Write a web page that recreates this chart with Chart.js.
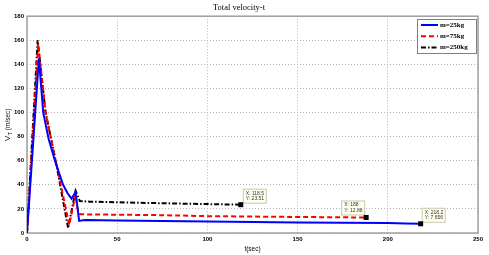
<!DOCTYPE html>
<html>
<head>
<meta charset="utf-8">
<script src="https://cdn.jsdelivr.net/npm/chart.js@4"></script>
<style>
  html, body { margin: 0; padding: 0; background: #fff; }
  #wrap { width: 489px; height: 255px; }
</style>
</head>
<body>
<div id="wrap"><canvas id="chart" width="489" height="255"></canvas></div>
<script>
/* values */
const seriesNames = ['m=25kg', 'm=75kg', 'm=250kg'];

const tBlue  = [0, 6.6, 9, 12, 15.5, 20, 22.5, 24.7, 26.9, 28.9, 31, 33, 50, 75, 100, 150, 200, 210, 218.2];
const vBlue  = [0, 145, 100, 78, 60, 40, 33, 28.5, 34, 10, 10.5, 10.8, 10.3, 10, 9.5, 8.8, 8.2, 7.9, 7.656];

const tRed   = [0, 6.2, 10.3, 15.9, 23.4, 26.9, 28.5, 30, 50, 75, 100, 150, 188];
const vRed   = [0, 157, 100, 60, 6.7, 31.7, 16, 15.5, 15.2, 14.8, 14, 13.3, 12.88];

const tBlack = [0, 5.9, 10.3, 15.9, 22.8, 26.9, 29.3, 35, 50, 75, 100, 118.5];
const vBlack = [0, 160, 100, 60, 4, 35, 26.5, 26, 25.5, 24.7, 24, 23.51];

const xTicks = [0, 50, 100, 150, 200, 250];
const yTicks = [0, 20, 40, 60, 80, 100, 120, 140, 160, 180];

const pts = (t, v) => t.map((x, i) => ({ x, y: v[i] }));

/* frame, legend box, data tips and y title drawn on top of the chart */
const matlabDeco = {
  id: 'matlabDeco',
  beforeDatasetsDraw(chart) {
    const { ctx, chartArea: a } = chart;
    ctx.save();
    ctx.strokeStyle = '#a0a0a0';
    ctx.lineWidth = 1.5;
    ctx.strokeRect(a.left, a.top, a.right - a.left, a.bottom - a.top);
    ctx.restore();
  },
  afterDraw(chart) {
    const { ctx, chartArea: a, scales } = chart;
    ctx.save();

    // y axis title: V_T (m/sec)
    ctx.translate(8, 120);
    ctx.rotate(-Math.PI / 2);
    ctx.fillStyle = '#000';
    ctx.textBaseline = 'middle';
    ctx.font = '8px "Liberation Sans", Arial, sans-serif';
    ctx.fillText('V', -21, 0);
    ctx.font = '5.5px "Liberation Sans", Arial, sans-serif';
    ctx.fillText('T', -15.5, 2.5);
    ctx.font = '6.5px "Liberation Sans", Arial, sans-serif';
    ctx.fillText(' (m/sec)', -12, 0);
    ctx.restore();

    // data tips at the end of each series
    const place = [
      (px, py) => [px + 1, py - 16],
      (px, py) => [px - 25, py - 17],
      (px, py) => [px + 2, py - 16]
    ];
    chart.data.datasets.forEach((ds, di) => {
      const last = ds.data[ds.data.length - 1];
      const px = scales.x.getPixelForValue(last.x);
      const py = scales.y.getPixelForValue(last.y);
      const [bx, by] = place[di](px, py);
      ctx.save();
      ctx.fillStyle = '#fffff0';
      ctx.strokeStyle = '#c8c8b0';
      ctx.lineWidth = 1;
      ctx.fillRect(bx, by, 23, 14);
      ctx.strokeRect(bx + 0.5, by + 0.5, 23, 14);
      ctx.fillStyle = '#333';
      ctx.font = '5px "Liberation Sans", Arial, sans-serif';
      ctx.textBaseline = 'middle';
      ctx.fillText('X: ' + last.x, bx + 3, by + 4.5);
      ctx.fillText('Y: ' + last.y, bx + 3, by + 10);
      ctx.fillStyle = '#000';
      ctx.fillRect(px - 2.5, py - 2.5, 5, 5);
      ctx.restore();
    });

    // legend box, top right inside the axes
    const lx = 417, ly = 19, lw = 59, lh = 34;
    ctx.save();
    ctx.fillStyle = '#fff';
    ctx.fillRect(lx, ly, lw, lh);
    ctx.strokeStyle = '#808080';
    ctx.lineWidth = 1;
    ctx.strokeRect(lx + 0.5, ly + 0.5, lw, lh);
    chart.data.datasets.forEach((ds, i) => {
      const yy = ly + 6 + i * 11.3;
      ctx.strokeStyle = ds.borderColor;
      ctx.lineWidth = 2;
      ctx.setLineDash(ds.borderDash || []);
      ctx.beginPath();
      ctx.moveTo(lx + 4, yy);
      ctx.lineTo(lx + 21, yy);
      ctx.stroke();
      ctx.setLineDash([]);
      ctx.fillStyle = '#000';
      ctx.font = 'bold 7px "Liberation Serif", "Times New Roman", serif';
      ctx.textBaseline = 'middle';
      ctx.fillText(ds.label, lx + 23, yy);
    });
    ctx.restore();
  }
};

const ctx = document.getElementById('chart');
new Chart(ctx, {
  type: 'line',
  data: {
    datasets: [
      {
        label: seriesNames[0],
        data: pts(tBlue, vBlue),
        borderColor: '#0000ff',
        borderWidth: 2,
        pointRadius: 0,
        tension: 0
      },
      {
        label: seriesNames[1],
        data: pts(tRed, vRed),
        borderColor: '#ff0000',
        borderWidth: 2,
        borderDash: [5, 3],
        pointRadius: 0,
        tension: 0
      },
      {
        label: seriesNames[2],
        data: pts(tBlack, vBlack),
        borderColor: '#000000',
        borderWidth: 2,
        borderDash: [5, 2, 1.5, 2],
        pointRadius: 0,
        tension: 0
      }
    ]
  },
  options: {
    responsive: false,
    animation: false,
    layout: { padding: { top: 0, right: 11, left: 0, bottom: 0 } },
    plugins: {
      legend: { display: false },
      tooltip: { enabled: false },
      title: {
        display: true,
        text: 'Total velocity-t',
        color: '#000',
        font: { family: '"Liberation Serif", "Times New Roman", serif', size: 8.5, weight: 'normal' },
        padding: { top: 3, bottom: 3 }
      }
    },
    scales: {
      x: {
        type: 'linear',
        min: 0, max: 250,
        afterBuildTicks: s => { s.ticks = xTicks.map(v => ({ value: v })); },
        afterFit: s => { s.height = 22; },
        grid: { color: '#b4b4b4', lineWidth: 1, drawTicks: false },
        border: { display: false, dash: [1, 2] },
        ticks: {
          color: '#000', padding: 3, maxRotation: 0,
          font: { family: '"Liberation Sans", Arial, sans-serif', size: 6, weight: 'bold' }
        },
        title: {
          display: true, text: 't(sec)', color: '#000',
          font: { family: '"Liberation Sans", Arial, sans-serif', size: 6.5 },
          padding: { top: 0, bottom: 2 }
        }
      },
      y: {
        min: 0, max: 180,
        afterBuildTicks: s => { s.ticks = yTicks.map(v => ({ value: v })); },
        afterFit: s => { s.width = 27; },
        grid: { color: '#b4b4b4', lineWidth: 1, drawTicks: false },
        border: { display: false, dash: [1, 2] },
        ticks: {
          color: '#000', padding: 3,
          font: { family: '"Liberation Sans", Arial, sans-serif', size: 6, weight: 'bold' }
        }
      }
    }
  },
  plugins: [matlabDeco]
});
</script>
</body>
</html>
